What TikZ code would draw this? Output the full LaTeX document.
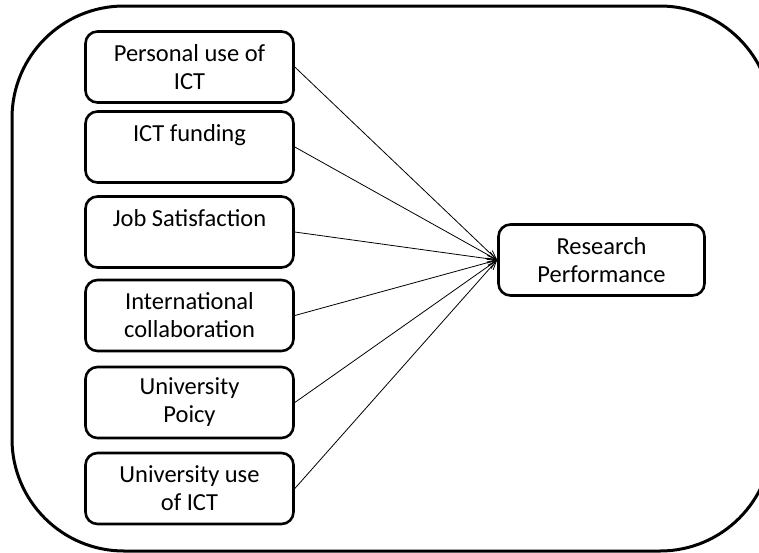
\documentclass[tikz,border=0pt]{standalone}
\usepackage{fontspec}
\setmainfont{Carlito}
\usetikzlibrary{arrows.meta}

\begin{document}
\begin{tikzpicture}[x=1pt,y=-1pt,
  factor/.style={draw,line width=2.6pt,rounded corners=12pt,minimum width=208pt,
    minimum height=71pt,align=center,font=\fontsize{24.5}{28}\selectfont,inner sep=0pt},
  conn/.style={line width=0.8pt,-{Straight Barb[length=9pt,width=7pt]}}]

% Frame
\useasboundingbox (0,0) rectangle (759,552);
\draw[line width=3pt,rounded corners=112pt] (12,6) rectangle (772,551);

% Factors
\node[factor] (pers) at (189.5,67) {Personal use of\\ICT};
\node[factor] (fund) at (189.5,147) {ICT funding\\\mbox{}};
\node[factor] (job) at (189.5,232) {Job Satisfaction\\\mbox{}};
\node[factor] (intl) at (189.5,315.5) {International\\collaboration};
\node[factor] (pol) at (189.5,402.5) {University\\Poicy};
\node[factor] (uni) at (189.5,488.5) {University use\\of ICT};

% Outcome
\node[factor,minimum width=206pt] (res) at (601.5,260) {Research\\Performance};

% Lines
\foreach \f in {pers,fund,job,intl,pol,uni}
  \draw[conn] (\f.east) -- (res.west);

\end{tikzpicture}
\end{document}
